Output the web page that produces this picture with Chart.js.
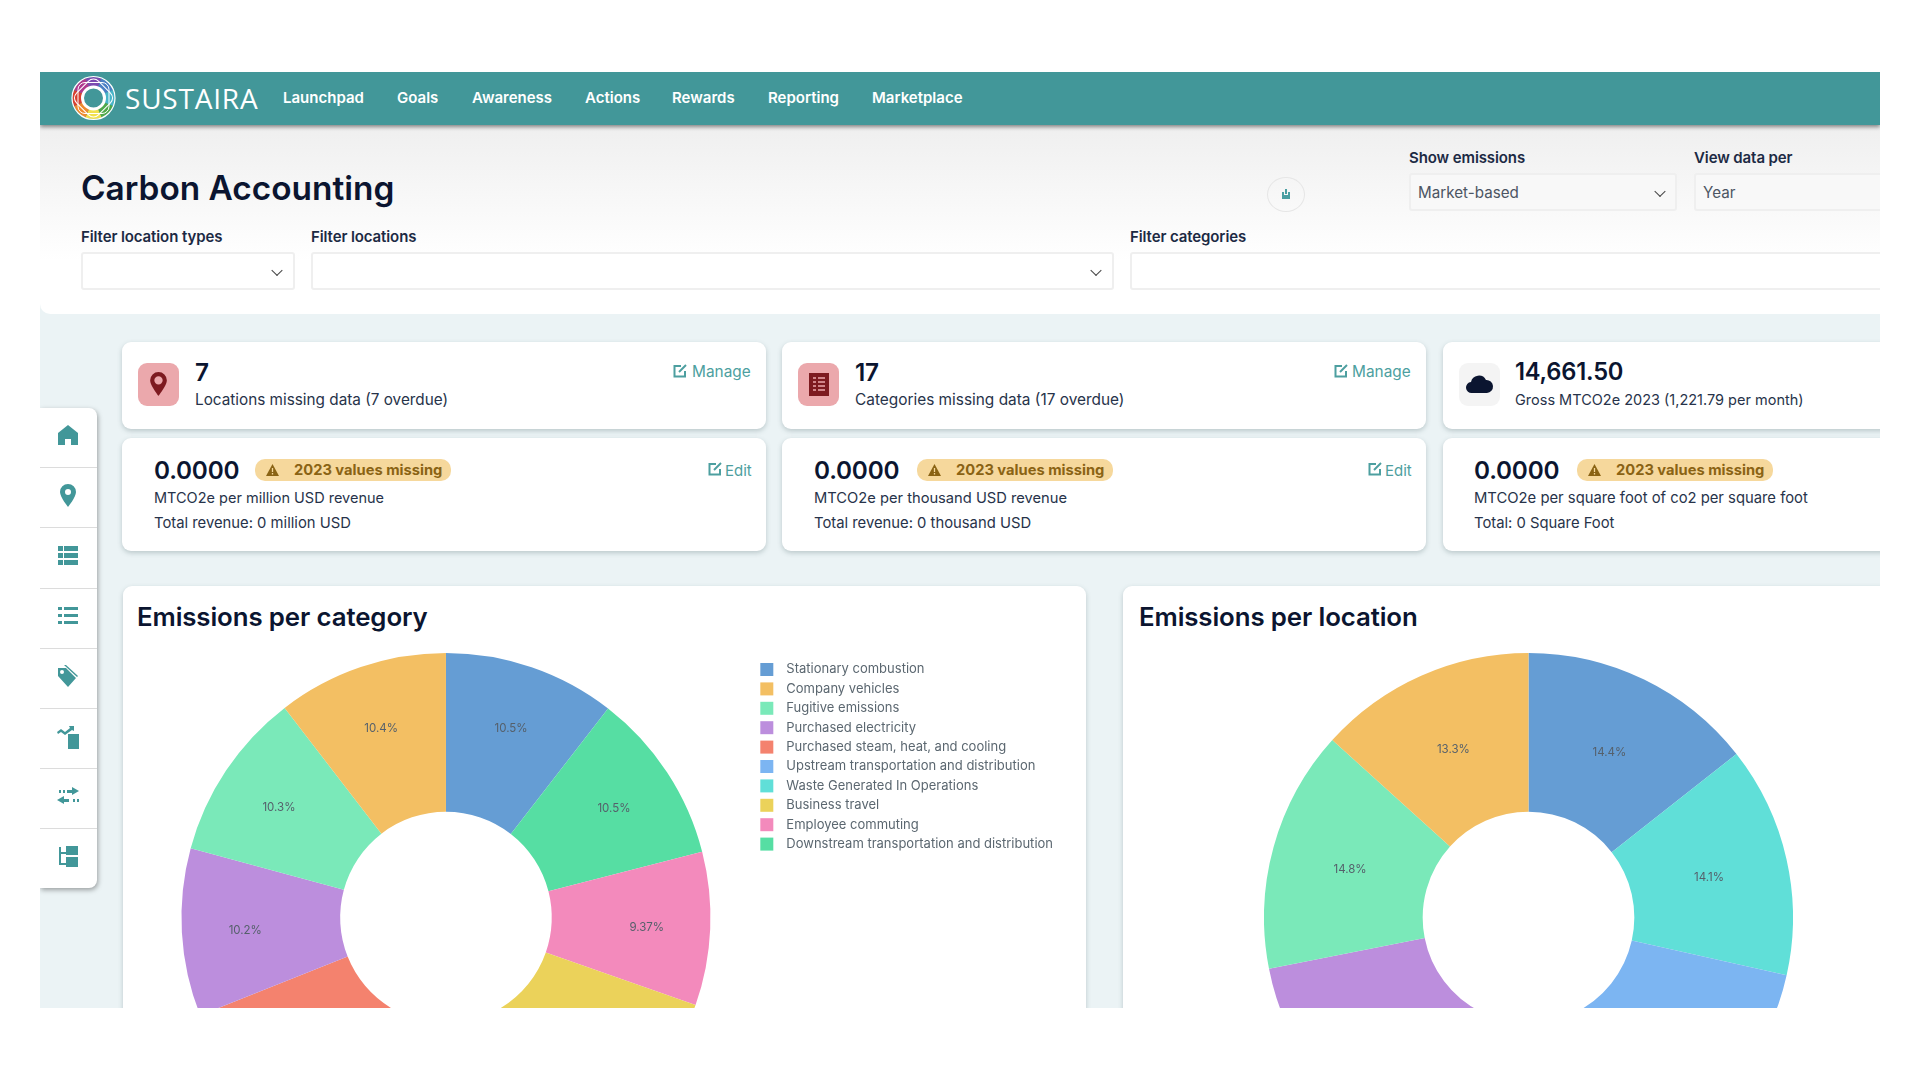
<!DOCTYPE html>
<html>
<head>
<meta charset="utf-8">
<title>Carbon Accounting</title>
<script src="https://cdn.jsdelivr.net/npm/chart.js@4"></script>
<style>
  html, body { margin: 0; background: #fff; }
  body { font-family: Inter, "Noto Sans", sans-serif; color: #0f1a33; overflow: hidden; }
  #page { position: absolute; left: 0; top: 0; width: 1920px; height: 1080px; background: #ebf3f5; clip-path: inset(72px 40px 72px 40px); }
  .t { position: absolute; white-space: nowrap; transform: translateY(-50%); line-height: 1; }
  .b { position: absolute; box-sizing: border-box; }
  .nav { font-size: 15px; font-weight: 600; color: #fff; }
  .lab { font-size: 15px; font-weight: 600; color: #1c2a44; letter-spacing: -0.1px; }
  .val { font-size: 15.2px; color: #4c5563; }
  .sel { background: #fff; border: 2px solid #efefef; border-radius: 3px; }
  .chev { position: absolute; width: 8px; height: 8px; border-right: 1.4px solid #444; border-bottom: 1.4px solid #444; transform: translate(-50%,-70%) rotate(45deg); box-sizing: border-box; }
  .card { background: #fff; border-radius: 9px; box-shadow: 0 2px 5px rgba(60,90,95,.28); }
  .num { font-size: 24.3px; font-weight: 600; color: #0b1530; letter-spacing: -0.2px; }
  .desc { font-size: 14.8px; color: #27334a; }
  .act { font-size: 15px; color: #4d9fa0; }
  .badge { background: #f6d89c; border-radius: 10px; height: 22px; width: 196px; }
  .badget { font-size: 14.7px; font-weight: 700; color: #8a6314; }
  .h2 { font-size: 25.8px; font-weight: 600; color: #0b1530; letter-spacing: -0.1px; }
  .sep { position: absolute; left: 40px; width: 57px; height: 1px; background: #dcdcdc; }
  svg { position: absolute; overflow: visible; }
  #catWrap, #locWrap { position: absolute; overflow: hidden; }
  canvas { display: block; }
</style>
</head>
<body>
<div id="page">
  <!-- top panel -->
  <div class="b" style="left:40px;top:125px;width:1840px;height:189px;background:linear-gradient(#efefef,#fff 72%);border-bottom-left-radius:10px"></div>
  <!-- header -->
  <div class="b" style="left:40px;top:72px;width:1840px;height:53px;background:#429799;box-shadow:0 2px 4px rgba(0,0,0,.45)"></div>
  <svg style="left:71px;top:76px" width="45" height="44" viewBox="-22.500 -22 45 44" fill="none" stroke-width="10">
    <g transform="rotate(-112.500)">
      <circle r="16" pathLength="8" stroke="#7b4bb0" stroke-dasharray="1 7"/>
      <circle r="16" pathLength="8" stroke="#4a7fc4" stroke-dasharray="1 7" stroke-dashoffset="-1"/>
      <circle r="16" pathLength="8" stroke="#48b5c8" stroke-dasharray="1 7" stroke-dashoffset="-2"/>
      <circle r="16" pathLength="8" stroke="#4fa84a" stroke-dasharray="1 7" stroke-dashoffset="-3"/>
      <circle r="16" pathLength="8" stroke="#f1e04a" stroke-dasharray="1 7" stroke-dashoffset="-4"/>
      <circle r="16" pathLength="8" stroke="#ee8a2d" stroke-dasharray="1 7" stroke-dashoffset="-5"/>
      <circle r="16" pathLength="8" stroke="#d8402f" stroke-dasharray="1 7" stroke-dashoffset="-6"/>
      <circle r="16" pathLength="8" stroke="#b03a8e" stroke-dasharray="1 7" stroke-dashoffset="-7"/>
    </g>
    <circle r="21.500" stroke="#fff" stroke-width="1.200"/>
    <rect x="-15.500" y="-15.500" width="31" height="31" rx="7" stroke="#fff" stroke-width="1"/>
    <rect x="-15.500" y="-15.500" width="31" height="31" rx="7" stroke="#fff" stroke-width="1" transform="rotate(45)"/>
    <circle r="11" fill="#429799" stroke="#fff" stroke-width="3"/>
  </svg>
  <div class="t" style="left:125px;top:98px;font-size:28px;color:#fff;letter-spacing:0.8px;font-family:'Open Sans'">SUSTAIRA</div>
  <div id="navBar"></div>

  <div class="t" style="left:81px;top:189px;font-size:33.400px;font-weight:600;color:#0b1530">Carbon Accounting</div>
  <div class="t lab" style="left:1409px;top:157px">Show emissions</div>
  <div class="t lab" style="left:1694px;top:157px">View data per</div>
  <div class="b sel" style="left:1409px;top:173px;width:268px;height:38px;background:#f8f8f8"></div>
  <div class="t val" style="left:1418px;top:193px">Market-based</div>
  <div class="chev" style="left:1660px;top:193px"></div>
  <div class="b sel" style="left:1694px;top:173px;width:190px;height:38px;background:#f8f8f8"></div>
  <div class="t val" style="left:1703px;top:193px">Year</div>
  <div class="b" style="left:1267px;top:177px;width:38px;height:35px;border-radius:50%;border:1.5px solid #e6e6e6"></div>
  <svg style="left:1281px;top:188px" width="10" height="12" viewBox="0 0 10 12"><path d="M1 4v7h8V4H7v3H3V4z M4 1h2v5H4z" fill="#4a9fa2"/></svg>

  <div class="t lab" style="left:81px;top:236px">Filter location types</div>
  <div class="t lab" style="left:311px;top:236px">Filter locations</div>
  <div class="t lab" style="left:1130px;top:236px">Filter categories</div>
  <div class="b sel" style="left:81px;top:252px;width:214px;height:38px"></div>
  <div class="chev" style="left:277px;top:272px"></div>
  <div class="b sel" style="left:311px;top:252px;width:803px;height:38px"></div>
  <div class="chev" style="left:1096px;top:272px"></div>
  <div class="b sel" style="left:1130px;top:252px;width:754px;height:38px"></div>

  <!-- side menu -->
  <div class="b" style="left:40px;top:408px;width:57px;height:480px;background:#fff;border-radius:0 8px 8px 0;box-shadow:1px 2px 5px rgba(0,0,0,.35)"></div>
  <div id="sepBar"></div>
  <svg style="left:58px;top:425px" width="20" height="20" viewBox="0 0 20 20" fill="#429799"><path d="M10 0L20 8v12h-7v-6H7v6H0V8z"/></svg>
  <svg style="left:60px;top:484px" width="16" height="23" viewBox="0 0 16 23" fill="#429799"><path fill-rule="evenodd" d="M8 0a8 8 0 0 1 8 8c0 5-8 15-8 15S0 13 0 8a8 8 0 0 1 8-8zm0 5a3 3 0 1 0 0 6 3 3 0 0 0 0-6z"/></svg>
  <svg style="left:58px;top:546px" width="20" height="19" viewBox="0 0 20 19" fill="#429799"><path d="M0 0h5v5H0zM6 0h14v5H6zM0 7h5v5H0zM6 7h14v5H6zM0 14h5v5H0zM6 14h14v5H6z"/></svg>
  <svg style="left:58px;top:607px" width="20" height="18" viewBox="0 0 20 18" fill="#429799"><path d="M0 0h4v3H0zM6 0h14v3H6zM0 7h4v3H0zM6 7h14v3H6zM0 14h4v3H0zM6 14h14v3H6z"/></svg>
  <svg style="left:58px;top:665px" width="20" height="22" viewBox="0 0 20 22" fill="#429799"><path fill-rule="evenodd" d="M0 3h8l10 10-8 9L0 11zm4 2a2 2 0 1 0 0 4 2 2 0 0 0 0-4z"/><path d="M6 0l13 12 1-1L8 0z"/></svg>
  <svg style="left:57px;top:726px" width="22" height="23" viewBox="0 0 22 23" fill="#429799"><path d="M11 8h11v15H11z"/><path d="M0 6l4-3 4 3 5-4-1-2h5v5l-2-1-7 5-4-3-3 2z"/></svg>
  <svg style="left:57px;top:787px" width="22" height="20" viewBox="0 0 22 20" fill="#429799"><path d="M2 3h2v3H2zM6 3h2v3H6zM10 3h5V0l7 4-7 4V6h-5zM22 12h-2v3h2zM18 12h-2v3h2zM12 12H7V9l-7 4 7 4v-2h5z"/></svg>
  <svg style="left:58px;top:846px" width="20" height="21" viewBox="0 0 20 21" fill="#429799"><path d="M8 0h12v9H8zM8 11h12v10H8z"/><path d="M1 1h2v16h5v2H1zM3 6h5v2H3z"/></svg>

  <!-- stat cards -->
  <div class="b card" style="left:122px;top:342px;width:644px;height:87px"></div>
  <div class="b card" style="left:782px;top:342px;width:644px;height:87px"></div>
  <div class="b card" style="left:1443px;top:342px;width:460px;height:87px"></div>
  <div class="b card" style="left:122px;top:438px;width:644px;height:113px"></div>
  <div class="b card" style="left:782px;top:438px;width:644px;height:113px"></div>
  <div class="b card" style="left:1443px;top:438px;width:460px;height:113px"></div>

  <div class="b" style="left:138px;top:363px;width:41px;height:43px;background:#eba8ac;border-radius:9px"></div>
  <svg style="left:150px;top:372px" width="17" height="24" viewBox="0 0 16 23" fill="#7d1a20"><path fill-rule="evenodd" d="M8 0a8 8 0 0 1 8 8c0 5-8 15-8 15S0 13 0 8a8 8 0 0 1 8-8zm0 4a4 4 0 1 0 0 8 4 4 0 0 0 0-8z"/></svg>
  <div class="t num" style="left:195px;top:372px">7</div>
  <div class="t desc" style="left:195px;top:400px;font-size:15.300px">Locations missing data (7 overdue)</div>
  <div class="t act" style="left:692px;top:372px;font-size:15.400px">Manage</div>

  <div class="b" style="left:798px;top:363px;width:41px;height:43px;background:#eba8ac;border-radius:9px"></div>
  <svg style="left:809px;top:373px" width="20" height="23" viewBox="0 0 20 23"><path fill="#7d1a20" d="M0 0h20v23H0z"/><path stroke="#eba8ac" stroke-width="1.5" d="M4 5h3M9 5h7M4 9h3M9 9h7M4 13h3M9 13h7M4 17h3M9 17h7"/></svg>
  <div class="t num" style="left:855px;top:372px">17</div>
  <div class="t desc" style="left:855px;top:400px;font-size:15.400px">Categories missing data (17 overdue)</div>
  <div class="t act" style="left:1352px;top:372px;font-size:15.400px">Manage</div>

  <div class="b" style="left:1459px;top:363px;width:41px;height:43px;background:#f4f4f4;border-radius:9px"></div>
  <svg style="left:1466px;top:374px" width="27" height="20" viewBox="0 0 27 20" fill="#0b1530"><path d="M6 19a5.500 5.500 0 0 1-1-11 8 8 0 0 1 15-2 6.500 6.500 0 0 1 1 13z"/></svg>
  <div class="t num" style="left:1515px;top:372px;font-size:23.700px">14,661.50</div>
  <div class="t desc" style="left:1515px;top:400px;font-size:14.500px">Gross MTCO2e 2023 (1,221.79 per month)</div>

  <div id="ratioCards"></div>

  <!-- chart cards -->
  <div class="b card" style="left:123px;top:586px;width:963px;height:500px"></div>
  <div class="b card" style="left:1123px;top:586px;width:800px;height:500px"></div>
  <div class="t h2" style="left:137px;top:617px">Emissions per category</div>
  <div class="t h2" style="left:1139px;top:617px">Emissions per location</div>
  <div id="catWrap" style="left:138px;top:653px;width:925px;height:529px"><canvas id="catChart" width="925" height="529"></canvas></div>
  <div id="locWrap" style="left:1264px;top:653px;width:529px;height:529px"><canvas id="locChart" width="529" height="529"></canvas></div>
</div>

<script>
// nav + side menu
var navLabels = ['Launchpad', 'Goals', 'Awareness', 'Actions', 'Rewards', 'Reporting', 'Marketplace'];
var navX = [283, 397, 472, 585, 672, 768, 872];
var sepY = [467, 527, 588, 648, 708, 768, 828];

// ratio cards
var ratioX = [154, 814, 1474];
var badgeX = [255, 917, 1577];
var ratioUnits = ['MTCO2e per million USD revenue', 'MTCO2e per thousand USD revenue', 'MTCO2e per square foot of co2 per square foot'];
var ratioTotals = ['Total revenue: 0 million USD', 'Total revenue: 0 thousand USD', 'Total: 0 Square Foot'];
var unitSize = [14.5, 14.7, 14.8];
var editX = [725, 1385];

// emissions per category, clockwise from the top
var categories = ['Stationary combustion', 'Downstream transportation and distribution', 'Employee commuting', 'Business travel', 'Waste Generated In Operations', 'Upstream transportation and distribution', 'Purchased steam, heat, and cooling', 'Purchased electricity', 'Fugitive emissions', 'Company vehicles'];
var categoryShare = [10.5, 10.5, 9.37, 10.9, 8.7, 8.73, 10.28, 10.24, 10.34, 10.44];
var categoryColors = ['#659dd4', '#56dea3', '#f38abc', '#ebd25a', '#60dfd8', '#7cb5f2', '#f4826e', '#bc8edd', '#7ae9b9', '#f3bf63'];

// emissions per location, clockwise from the top (names are off the picture)
var locations = ['Location 1', 'Location 2', 'Location 3', 'Location 4', 'Location 5', 'Location 6', 'Location 7'];
var locationShare = [14.4, 14.1, 14.5, 14.5, 14.4, 14.8, 13.3];
var locationColors = ['#659dd4', '#60dfd8', '#7cb5f2', '#f4826e', '#bc8edd', '#7ae9b9', '#f3bf63'];

var html = '';
navLabels.forEach(function (label, i) {
  html += '<div class="t nav" style="left:' + navX[i] + 'px;top:97px">' + label + '</div>';
});
document.getElementById('navBar').innerHTML = html;

html = '';
sepY.forEach(function (y) { html += '<div class="sep" style="top:' + y + 'px"></div>'; });
document.getElementById('sepBar').innerHTML = html;

var editIcon = function (x, y) {
  return '<svg style="left:' + x + 'px;top:' + y + 'px" width="14" height="14" viewBox="0 0 14 14" fill="none" stroke="#4d9fa0" stroke-width="2"><path d="M8 2H1.500v10.500H12V7"/><path d="M6 8l7-7"/></svg>';
};
html = editIcon(673, 364) + editIcon(1334, 364);
ratioX.forEach(function (x, i) {
  html += '<div class="t num" style="left:' + x + 'px;top:470px">0.0000</div>';
  html += '<div class="b badge" style="left:' + badgeX[i] + 'px;top:459px"></div>';
  html += '<svg style="left:' + (badgeX[i] + 11) + 'px;top:464px" width="13" height="12" viewBox="0 0 13 12"><path d="M6.500 0L13 12H0z" fill="#8a6314"/><path d="M6.500 4v4M6.500 9v1.500" stroke="#f6d89c" stroke-width="1.300"/></svg>';
  html += '<div class="t badget" style="left:' + (badgeX[i] + 39) + 'px;top:470px">2023 values missing</div>';
  html += '<div class="t desc" style="left:' + x + 'px;top:498px;font-size:' + unitSize[i] + 'px">' + ratioUnits[i] + '</div>';
  html += '<div class="t desc" style="left:' + x + 'px;top:523px">' + ratioTotals[i] + '</div>';
  if (editX[i]) {
    html += editIcon(editX[i] - 17, 462);
    html += '<div class="t act" style="left:' + editX[i] + 'px;top:470px">Edit</div>';
  }
});
document.getElementById('ratioCards').innerHTML = html;

// percent labels inside the slices
var sliceLabels = {
  id: 'sliceLabels',
  afterDatasetsDraw: function (chart, args, opts) {
    var ctx = chart.ctx;
    var values = chart.data.datasets[0].data;
    ctx.save();
    ctx.font = '11.5px Inter';
    ctx.fillStyle = '#55606b';
    ctx.textAlign = 'center';
    ctx.textBaseline = 'middle';
    chart.getDatasetMeta(0).data.forEach(function (arc, i) {
      var mid = (arc.startAngle + arc.endAngle) / 2;
      var r = arc.outerRadius * opts.radius;
      ctx.fillText(values[i].toPrecision(3) + '%', arc.x + Math.cos(mid) * r, arc.y + Math.sin(mid) * r + 1.5);
    });
    ctx.restore();
  }
};

// legend runs stationary first, the rest against the slice order
var legendRank = function (item) {
  return item.index === 0 ? 0 : categories.length - item.index;
};

new Chart(document.getElementById('catChart'), {
  type: 'doughnut',
  data: {
    labels: categories,
    datasets: [{ data: categoryShare, backgroundColor: categoryColors, borderWidth: 0 }]
  },
  options: {
    responsive: false,
    animation: false,
    cutout: '40%',
    plugins: {
      sliceLabels: { radius: 0.76 },
      tooltip: { enabled: false },
      legend: {
        position: 'right',
        align: 'start',
        // empty title only pushes the rows down a little
        title: { display: true, text: '', padding: 0, font: { size: 3 } },
        labels: {
          boxWidth: 13,
          boxHeight: 13,
          padding: 6.4,
          color: '#5b6770',
          font: { family: 'Inter', size: 13 },
          sort: function (a, b) { return legendRank(a) - legendRank(b); },
          generateLabels: function (chart) {
            return Chart.overrides.doughnut.plugins.legend.labels.generateLabels(chart).map(function (item) {
              item.text = '\u2002' + item.text;
              return item;
            });
          }
        }
      }
    }
  },
  plugins: [sliceLabels]
});

new Chart(document.getElementById('locChart'), {
  type: 'doughnut',
  data: {
    labels: locations,
    datasets: [{ data: locationShare, backgroundColor: locationColors, borderWidth: 0 }]
  },
  options: {
    responsive: false,
    animation: false,
    cutout: '40%',
    plugins: {
      sliceLabels: { radius: 0.7 },
      tooltip: { enabled: false },
      legend: { display: false }
    }
  },
  plugins: [sliceLabels]
});
</script>
</body>
</html>
